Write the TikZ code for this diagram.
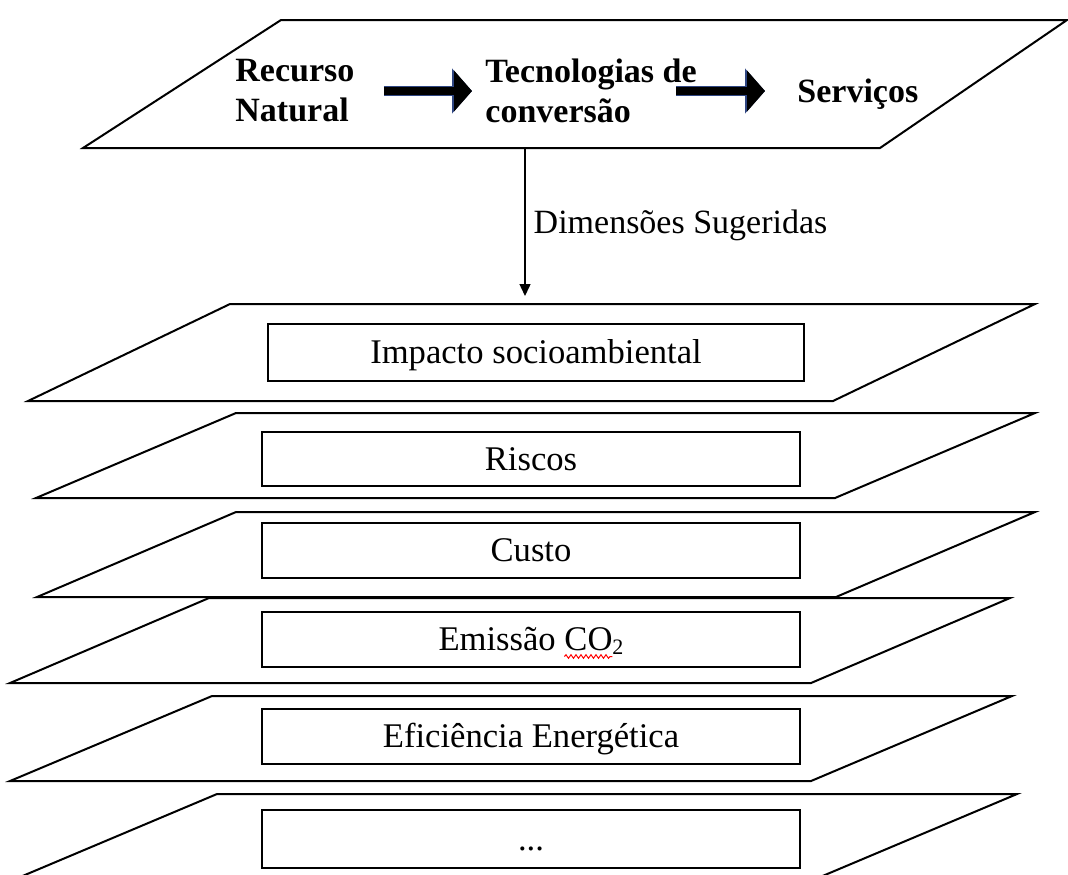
\documentclass[tikz,border=0pt]{standalone}
\usepackage{fontspec}
\setmainfont{Liberation Serif}
\usetikzlibrary{arrows.meta,decorations.pathmorphing}

% widths used to place the wavy mark under "CO"
\newlength\labwidth
\newlength\prewidth
\newlength\cowidth
\newcommand\boxfont{\fontsize{17.3}{20}\selectfont}
\newcommand\subtwo{\raisebox{-0.1em}{\fontsize{11}{11}\selectfont 2}}
\settowidth\labwidth{\boxfont Emissão CO\subtwo}
\settowidth\prewidth{\boxfont Emissão\ }
\settowidth\cowidth{\boxfont CO}

\begin{document}
\begin{tikzpicture}[x=0.5pt,y=-0.5pt,
  every node/.style={inner sep=0pt},
  layer/.style={draw=black, line width=1pt, line join=miter},
  dimbox/.style={draw=black, line width=1pt, minimum width=269.5pt, minimum height=27.5pt,
    font=\boxfont, text height=11.4pt, text depth=0pt},
  boldtxt/.style={font=\fontsize{17}{20}\selectfont\bfseries, align=left},
  blockedge/.style={draw={rgb,255:red,47;green,70;blue,130}, line width=5pt,
    -{Triangle[length=10pt,width=22pt]}},
  blockarrow/.style={draw=black, line width=4pt,
    -{Triangle[length=9pt,width=20pt]}},
  thinarrow/.style={draw=black, line width=0.7pt, -{Triangle[length=6pt,width=5.5pt]}},
  spellmark/.style={draw=red, line width=0.5pt, decorate,
    decoration={snake, segment length=2.5pt, amplitude=0.9pt}}
]
\useasboundingbox (0,0) rectangle (1068,874);
\clip (0,0) rectangle (1068,874);

% chain: resource -> conversion technologies -> services
\draw[layer] (281,20) -- (1067,20) -- (880,148) -- (83,148) -- cycle;
\node[boldtxt, anchor=west] (rn) at (235,91) {Recurso\\Natural};
\node[boldtxt, anchor=west] (tc) at (485,91) {Tecnologias de\\conversão};
\node[boldtxt, anchor=west, text height=11.2pt, text depth=0pt] (sv) at (797,91) {Serviços};

\draw[blockedge, shorten <=14.5pt, shorten >=6.5pt] (rn.east) -- (tc.west);
\draw[blockarrow, shorten <=14.5pt, shorten >=6.5pt] (rn.east) -- (tc.west);
\draw[blockedge, shorten <=-10.5pt, shorten >=16pt] (tc.east) -- (tc.east -| sv.west);
\draw[blockarrow, shorten <=-10.5pt, shorten >=16pt] (tc.east) -- (tc.east -| sv.west);

% link to the stack of dimensions
\coordinate (a0) at (525,149);
\coordinate (a1) at (525,296);
\draw[thinarrow] (a0) -- node[anchor=west, xshift=4pt, font=\fontsize{17}{20}\selectfont,
  text height=11.2pt, text depth=0pt] (dim) {Dimensões Sugeridas} (a1);

% stacked layers
\draw[layer] (230,304) -- (1035,304) -- (833,401) -- (28,401) -- cycle;
\draw[layer] (236,413) -- (1035,413) -- (835,498) -- (36,498) -- cycle;
\draw[layer] (236,512) -- (1035,512) -- (836,597) -- (37,597) -- cycle;
\draw[layer] (209,598) -- (1010,598) -- (811,683) -- (10,683) -- cycle;
\draw[layer] (212,696) -- (1012,696) -- (811,781) -- (10,781) -- cycle;
\draw[layer] (217,794) -- (1017,794) -- (813,880) -- (13,880) -- cycle;

\node[dimbox, minimum width=268pt, minimum height=28.5pt] (d1) at (536,352.5) {Impacto socioambiental};
\node[dimbox, minimum width=269pt, minimum height=27pt] (d2) at (531,459) {Riscos};
\node[dimbox, minimum width=269pt] (d3) at (531,550.5) {Custo};
\node[dimbox, minimum width=269pt] (d4) at (531,639.5) {Emissão CO\subtwo};
\node[dimbox, minimum width=269pt] (d5) at (531,736.5) {Eficiência Energética};
\node[dimbox, minimum width=269pt, minimum height=29pt] (d6) at (531,839) {...};

% spelling mark under "CO"
\draw[spellmark] ([xshift=-0.5*\labwidth+\prewidth, yshift=-2.8pt]d4.base)
  -- ++(\cowidth,0);
\end{tikzpicture}
\end{document}
